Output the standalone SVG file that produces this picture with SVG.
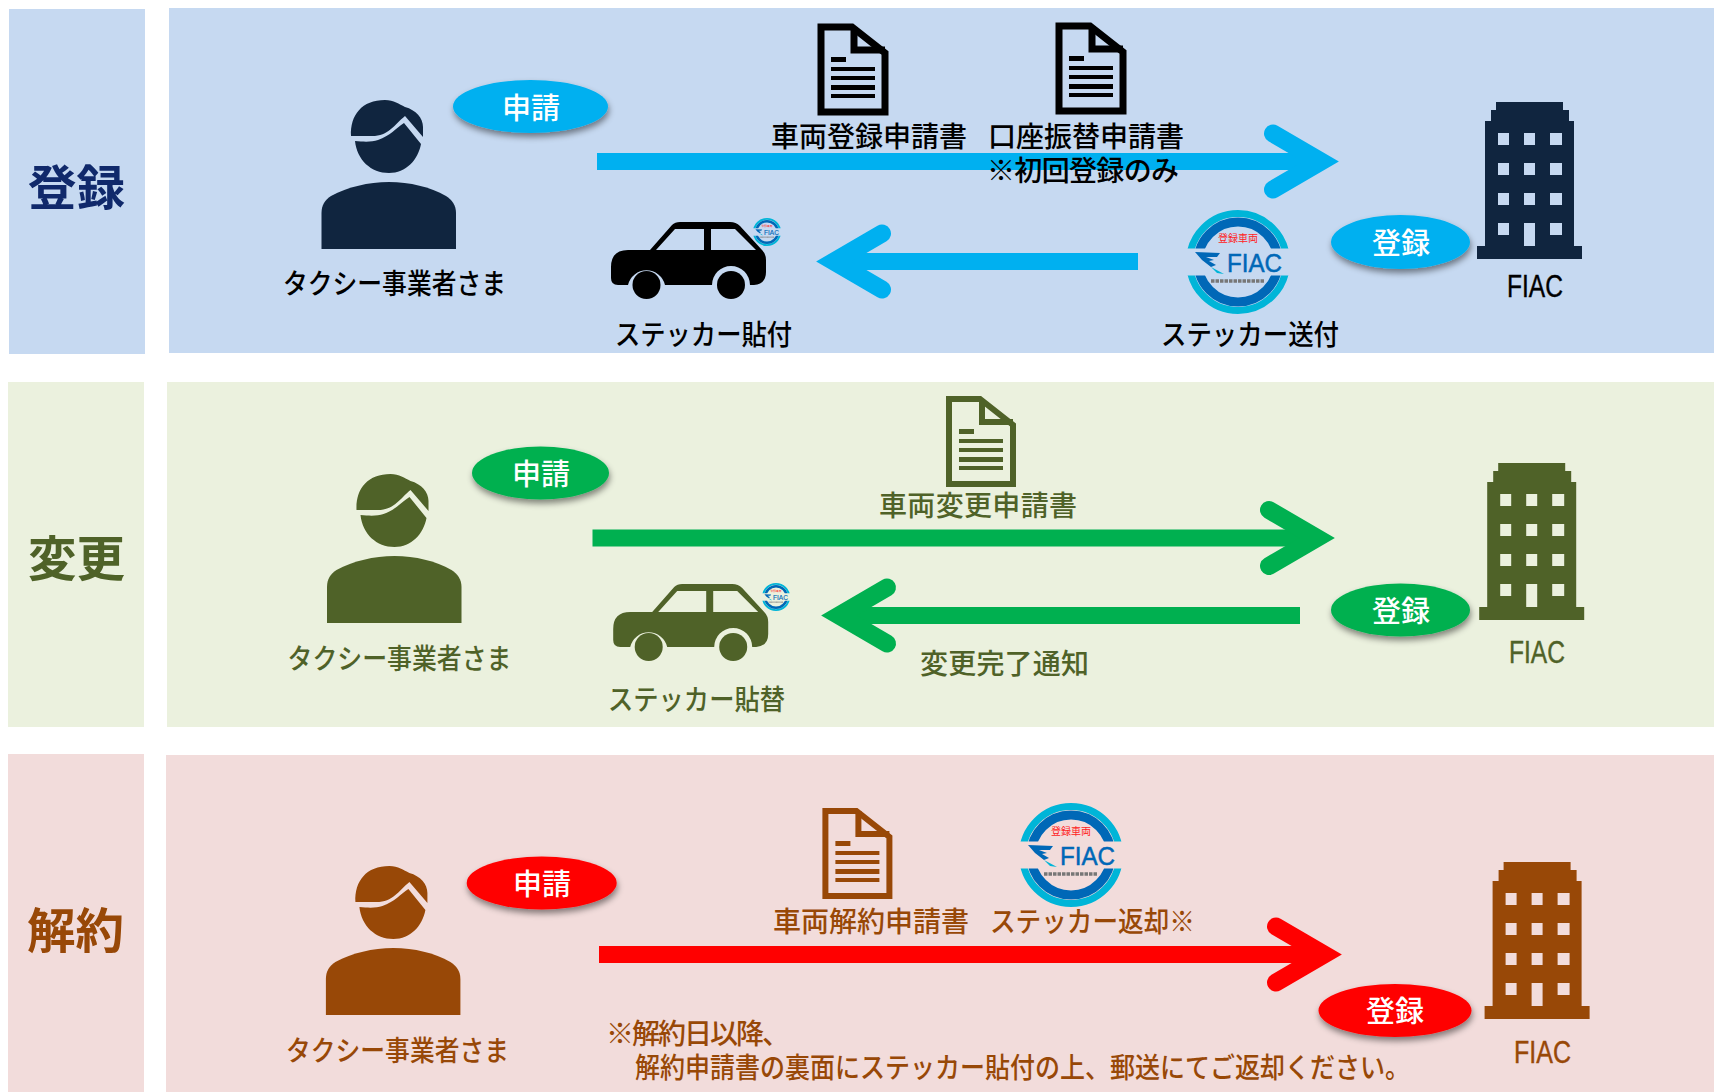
<svg xmlns="http://www.w3.org/2000/svg" xmlns:xlink="http://www.w3.org/1999/xlink" width="1714" height="1092" viewBox="0 0 1714 1092">
<style>
text{font-family:"Noto Sans CJK JP","Noto Sans",sans-serif;}
.l{font-size:28px;font-weight:500;}
.b{font-size:29px;fill:#fff;text-anchor:middle;font-weight:500;}
.t{font-size:48px;font-weight:700;}
.f{font-family:"Liberation Sans",sans-serif;font-size:31px;stroke:currentColor;stroke-width:.4px;}
.r1{color:#10253f;}
.r2{color:#4f6228;}
.r3{color:#984807;}
.c{fill:none;stroke-width:17px;}
</style>
<defs>
<filter id="sh" x="-20%" y="-30%" width="140%" height="170%"><feDropShadow dx="1" dy="4" stdDeviation="3" flood-color="#000" flood-opacity=".45"/></filter>
<marker id="mb" markerUnits="userSpaceOnUse" markerWidth="110" markerHeight="100" refX="68" refY="50" orient="auto" overflow="visible"><path d="M20 22L68 50L20 78" fill="none" stroke="#00b0f0" stroke-width="18" stroke-linecap="round"/></marker>
<marker id="mg" markerUnits="userSpaceOnUse" markerWidth="110" markerHeight="100" refX="68" refY="50" orient="auto" overflow="visible"><path d="M20 22L68 50L20 78" fill="none" stroke="#00b050" stroke-width="18" stroke-linecap="round"/></marker>
<marker id="mr" markerUnits="userSpaceOnUse" markerWidth="110" markerHeight="100" refX="68" refY="50" orient="auto" overflow="visible"><path d="M20 22L68 50L20 78" fill="none" stroke="#f00" stroke-width="18" stroke-linecap="round"/></marker>
<g id="person" fill="currentColor">
<path d="M351 136C350 115 362 100 385 100C394 100 399 104 405 107C416 110 423 118 423 127V137L405 116C394 125 388 137 370 136Z"/>
<path d="M355 141C365 142 372 142 378 140C390 136 396 128 404 123L421 144C418 160 406 173 389 173C371 173 357 160 355 141Z"/>
<path d="M321.5 249V213C321.5 205 325 200 331 196C348 187 368 182 389 182C410 182 430 187 446 196C452 200 456 205 456 213V249Z"/>
</g>
<path id="building" fill="currentColor" fill-rule="evenodd" d="M1496 102H1563V110H1569V121H1574V246H1582V259H1477V246H1485V121H1491V110H1496ZM1498 133V145H1509V133ZM1524 133V145H1535V133ZM1550 133V145H1562V133ZM1498 163V175H1509V163ZM1524 163V175H1535V163ZM1550 163V175H1562V163ZM1498 193V205H1509V193ZM1524 193V205H1535V193ZM1550 193V205H1562V193ZM1498 223V235H1509V223ZM1524 223V246H1535V223ZM1550 223V235H1562V223Z"/>
<g id="doc">
<path d="M3 3H34L67 29V88H3Z" fill="none" stroke="currentColor"/>
<path d="M36 3V26H67" fill="none" stroke="currentColor"/>
<path d="M13 33h15v5H13ZM13 43h44v4H13ZM13 52h44v4H13ZM13 61h44v5H13ZM13 70h44v4H13Z" fill="currentColor"/>
</g>
<g id="car" fill="currentColor" fill-rule="evenodd">
<path d="M618 285Q611 285 611 278V267Q611 250 628 250H650L672 225Q675 222 680 222H730Q736 222 740 226L762 250Q766 254 766 260V272Q766 284 754 285H750A19 19 0 0 0 712 285H665A19 19 0 0 0 628 285ZM656 250H704V229H675ZM711 250H756L735 229H711Z"/>
<circle cx="646.5" cy="285" r="14"/><circle cx="731" cy="285" r="14"/>
</g>
<clipPath id="bands"><rect x="-60" y="-60" width="120" height="46.500"/><rect x="-60" y="13.500" width="120" height="46.500"/></clipPath>
<g id="sticker">
<g clip-path="url(#bands)" fill="none"><circle r="48.500" stroke="#00b5d8" stroke-width="7"/><circle r="40" stroke="#0068b7" stroke-width="9"/></g>
<text x="0" y="-20" text-anchor="middle" font-size="10" fill="#f22" textLength="40">登録車両</text>
<text x="-11" y="9.500" font-size="26" fill="#0068b7" stroke="#0068b7" stroke-width=".5" style="font-family:'Liberation Sans',sans-serif" textLength="55" lengthAdjust="spacingAndGlyphs">FIAC</text>
<path d="M-43-10L-18-9L-21-5L-32-5L-24-2L-29-1L-22 3L-27 5L-36-2Z" fill="#0068b7"/>
<path d="M-27 5L-14 12L-21 11Z" fill="#00b5d8"/>
<path d="M-27 19H27" stroke="#777" stroke-width="3.500" stroke-dasharray="3.500 1"/>
</g>
</defs>

<g id="panels">
<rect x="9" y="9" width="136" height="345" fill="#c6d9f1"/><rect x="169" y="8" width="1545" height="345" fill="#c6d9f1"/>
<rect x="8" y="382" width="136" height="345" fill="#ebf1de"/><rect x="167" y="382" width="1547" height="345" fill="#ebf1de"/>
<rect x="8" y="754" width="136" height="338" fill="#f2dcdb"/><rect x="166" y="755" width="1548" height="337" fill="#f2dcdb"/>
</g>

<g id="connectors">
<line class="c" x1="597" y1="161.500" x2="1321" y2="161.500" stroke="#00b0f0" marker-end="url(#mb)"/>
<line class="c" x1="1138" y1="261.500" x2="834" y2="261.500" stroke="#00b0f0" marker-end="url(#mb)"/>
<line class="c" x1="592.500" y1="538" x2="1317" y2="538" stroke="#00b050" marker-end="url(#mg)"/>
<line class="c" x1="1300" y1="615.500" x2="839" y2="615.500" stroke="#00b050" marker-end="url(#mg)"/>
<line class="c" x1="599" y1="954.500" x2="1324" y2="954.500" stroke="#f00" marker-end="url(#mr)"/>
</g>

<g id="title-register"><text class="t" x="28" y="205" fill="#10296b" textLength="97" lengthAdjust="spacingAndGlyphs">登録</text></g>
<g id="title-change"><text class="t" x="28" y="576" fill="#4f6228" textLength="97" lengthAdjust="spacingAndGlyphs">変更</text></g>
<g id="title-cancel"><text class="t" x="27" y="948" fill="#984807" textLength="97" lengthAdjust="spacingAndGlyphs">解約</text></g>

<g id="user-1" class="r1"><use href="#person"/><text class="l" x="283" y="294" fill="#000" textLength="223" lengthAdjust="spacingAndGlyphs">タクシー事業者さま</text></g>
<g id="apply-1"><ellipse cx="530.500" cy="106.500" rx="77.500" ry="26.500" fill="#00b0f0" filter="url(#sh)"/><text class="b" x="531" y="119">申請</text></g>
<g id="doc-1a"><use href="#doc" x="818" y="24" color="#000" stroke-width="7"/><text class="l" x="771" y="147" fill="#000" textLength="196">車両登録申請書</text></g>
<g id="doc-1b"><use href="#doc" x="1056" y="23" color="#000" stroke-width="7"/><text class="l" x="988" y="147" fill="#000" textLength="196">口座振替申請書</text><text class="l" x="987" y="181" fill="#000" textLength="192">※初回登録のみ</text></g>
<g id="car-1"><use href="#car" color="#000"/><use href="#sticker" transform="translate(767 232) scale(.27)"/><text class="l" x="615" y="345" fill="#000" textLength="177" lengthAdjust="spacingAndGlyphs">ステッカー貼付</text></g>
<g id="sticker-1"><use href="#sticker" transform="translate(1238 262)"/><text class="l" x="1161" y="345" fill="#000" textLength="178" lengthAdjust="spacingAndGlyphs">ステッカー送付</text></g>
<g id="register-1"><ellipse cx="1400.500" cy="242" rx="69.500" ry="27" fill="#00b0f0" filter="url(#sh)"/><text class="b" x="1401" y="254">登録</text></g>
<g id="fiac-1" class="r1"><use href="#building"/><text class="f" x="1507" y="297" fill="#000" color="#000" textLength="56" lengthAdjust="spacingAndGlyphs">FIAC</text></g>

<g id="user-2" class="r2"><use href="#person" x="5.500" y="374"/><text class="l" x="287.500" y="669" fill="currentColor" textLength="224" lengthAdjust="spacingAndGlyphs">タクシー事業者さま</text></g>
<g id="apply-2"><ellipse cx="540.500" cy="473" rx="68.500" ry="26.500" fill="#00b050" filter="url(#sh)"/><text class="b" x="541" y="485">申請</text></g>
<g id="doc-2" class="r2"><use href="#doc" x="946" y="396" stroke-width="6"/><text class="l" x="879" y="516" fill="currentColor" textLength="198">車両変更申請書</text></g>
<g id="car-2" class="r2"><use href="#car" x="2.200" y="362"/><use href="#sticker" transform="translate(776 597) scale(.27)"/><text class="l" x="608" y="710" fill="currentColor" textLength="177" lengthAdjust="spacingAndGlyphs">ステッカー貼替</text></g>
<g id="notice-2" class="r2"><text class="l" x="920" y="674" fill="currentColor" textLength="169">変更完了通知</text></g>
<g id="register-2"><ellipse cx="1400.500" cy="610" rx="69.500" ry="26.500" fill="#00b050" filter="url(#sh)"/><text class="b" x="1401" y="622">登録</text></g>
<g id="fiac-2" class="r2"><use href="#building" x="2.200" y="361"/><text class="f" x="1509" y="663" fill="currentColor" textLength="56" lengthAdjust="spacingAndGlyphs">FIAC</text></g>

<g id="user-3" class="r3"><use href="#person" x="4.400" y="766"/><text class="l" x="286" y="1061" fill="currentColor" textLength="223" lengthAdjust="spacingAndGlyphs">タクシー事業者さま</text></g>
<g id="apply-3"><ellipse cx="541.700" cy="883" rx="75" ry="26.500" fill="#f00" filter="url(#sh)"/><text class="b" x="542" y="895">申請</text></g>
<g id="doc-3" class="r3"><use href="#doc" x="822.400" y="808" stroke-width="6"/><text class="l" x="773" y="932" fill="currentColor" textLength="196">車両解約申請書</text></g>
<g id="sticker-3" class="r3"><use href="#sticker" transform="translate(1071 855)"/><text class="l" x="990" y="932" fill="currentColor" textLength="205" lengthAdjust="spacingAndGlyphs">ステッカー返却※</text></g>
<g id="register-3"><ellipse cx="1395" cy="1010.500" rx="76.500" ry="26.500" fill="#f00" filter="url(#sh)"/><text class="b" x="1395" y="1022">登録</text></g>
<g id="fiac-3" class="r3"><use href="#building" x="7.600" y="760"/><text class="f" x="1514" y="1063" fill="currentColor" textLength="57" lengthAdjust="spacingAndGlyphs">FIAC</text></g>
<g id="note-3" class="r3"><text class="l" x="606" y="1044" fill="currentColor" textLength="184">※解約日以降、</text><text class="l" x="635" y="1078" fill="currentColor" textLength="775" lengthAdjust="spacingAndGlyphs">解約申請書の裏面にステッカー貼付の上、郵送にてご返却ください。</text></g>
</svg>
